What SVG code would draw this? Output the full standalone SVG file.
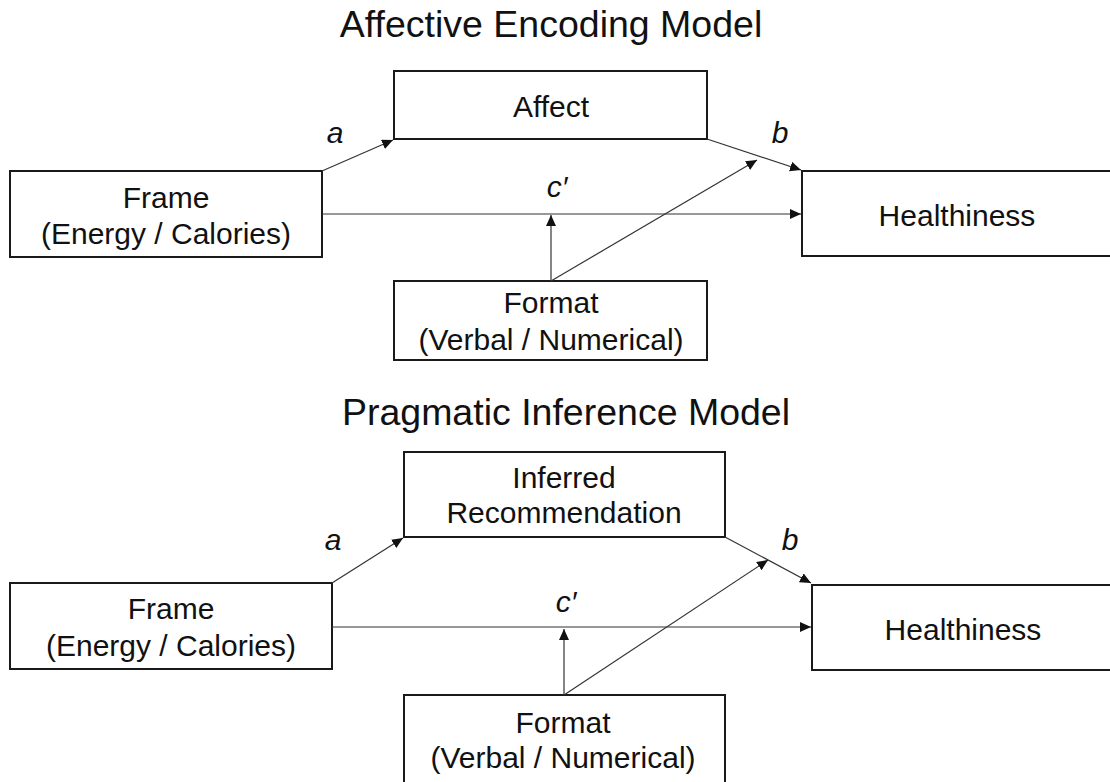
<svg xmlns="http://www.w3.org/2000/svg" width="1110" height="782" viewBox="0 0 1110 782">
  <style>
    .box { fill: #ffffff; stroke: #1a1a1a; stroke-width: 2; }
    .lbl { font-family: "Liberation Sans", Arial, sans-serif; font-size: 30px; fill: #111111; text-anchor: middle; }
    .title { font-family: "Liberation Sans", Arial, sans-serif; font-size: 37.5px; fill: #111111; text-anchor: middle; }
    .path-lbl { font-family: "Liberation Sans", Arial, sans-serif; font-size: 30px; font-style: italic; fill: #111111; text-anchor: middle; }
    .edge { stroke: #333333; stroke-width: 1.2; fill: none; marker-end: url(#arrow); }
  </style>
  <defs>
    <marker id="arrow" markerUnits="userSpaceOnUse" markerWidth="12" markerHeight="11" refX="11" refY="5" orient="auto">
      <path d="M0,0 L11,5 L0,10 Z" fill="#111111"/>
    </marker>
  </defs>
  <rect width="1110" height="782" fill="#ffffff"/>

  <!-- Upper panel -->
  <text class="title" x="551" y="37">Affective Encoding Model</text>

  <g id="top-frame">
    <rect class="box" x="10" y="171" width="312" height="86"/>
    <text class="lbl" x="166" y="208">Frame</text>
    <text class="lbl" x="166" y="244">(Energy / Calories)</text>
  </g>
  <g id="top-affect">
    <rect class="box" x="394" y="71" width="313" height="68"/>
    <text class="lbl" x="551" y="117">Affect</text>
  </g>
  <g id="top-healthiness">
    <rect class="box" x="802" y="171" width="312" height="85"/>
    <text class="lbl" x="957" y="226">Healthiness</text>
  </g>
  <g id="top-format">
    <rect class="box" x="394" y="281" width="313" height="79"/>
    <text class="lbl" x="551" y="313">Format</text>
    <text class="lbl" x="551" y="350">(Verbal / Numerical)</text>
  </g>

  <g id="top-connectors">
    <line class="edge" x1="322" y1="171" x2="393" y2="140"/>
    <line class="edge" x1="707" y1="139" x2="801" y2="170"/>
    <line class="edge" x1="322" y1="214" x2="801" y2="214"/>
    <line class="edge" x1="551" y1="281" x2="551" y2="215"/>
    <line class="edge" x1="551" y1="281" x2="757" y2="160"/>
    <text class="path-lbl" x="335" y="143">a</text>
    <text class="path-lbl" x="780" y="143">b</text>
    <text class="path-lbl" x="557" y="197">c′</text>
  </g>

  <!-- Lower panel -->
  <text class="title" x="566" y="425">Pragmatic Inference Model</text>

  <g id="bottom-frame">
    <rect class="box" x="10" y="583" width="322" height="86"/>
    <text class="lbl" x="171" y="619">Frame</text>
    <text class="lbl" x="171" y="656">(Energy / Calories)</text>
  </g>
  <g id="bottom-recommendation">
    <rect class="box" x="404" y="452" width="321" height="85"/>
    <text class="lbl" x="564" y="488">Inferred</text>
    <text class="lbl" x="564" y="523">Recommendation</text>
  </g>
  <g id="bottom-healthiness">
    <rect class="box" x="812" y="585" width="302" height="85"/>
    <text class="lbl" x="963" y="640">Healthiness</text>
  </g>
  <g id="bottom-format">
    <rect class="box" x="404" y="695" width="321" height="100"/>
    <text class="lbl" x="563" y="733">Format</text>
    <text class="lbl" x="563" y="768">(Verbal / Numerical)</text>
  </g>

  <g id="bottom-connectors">
    <line class="edge" x1="332" y1="583" x2="403" y2="538"/>
    <line class="edge" x1="725" y1="537" x2="811" y2="583"/>
    <line class="edge" x1="332" y1="627" x2="811" y2="627"/>
    <line class="edge" x1="564" y1="695" x2="564" y2="629"/>
    <line class="edge" x1="564" y1="695" x2="768" y2="560"/>
    <text class="path-lbl" x="333" y="550">a</text>
    <text class="path-lbl" x="790" y="550">b</text>
    <text class="path-lbl" x="566" y="612">c′</text>
  </g>
</svg>
